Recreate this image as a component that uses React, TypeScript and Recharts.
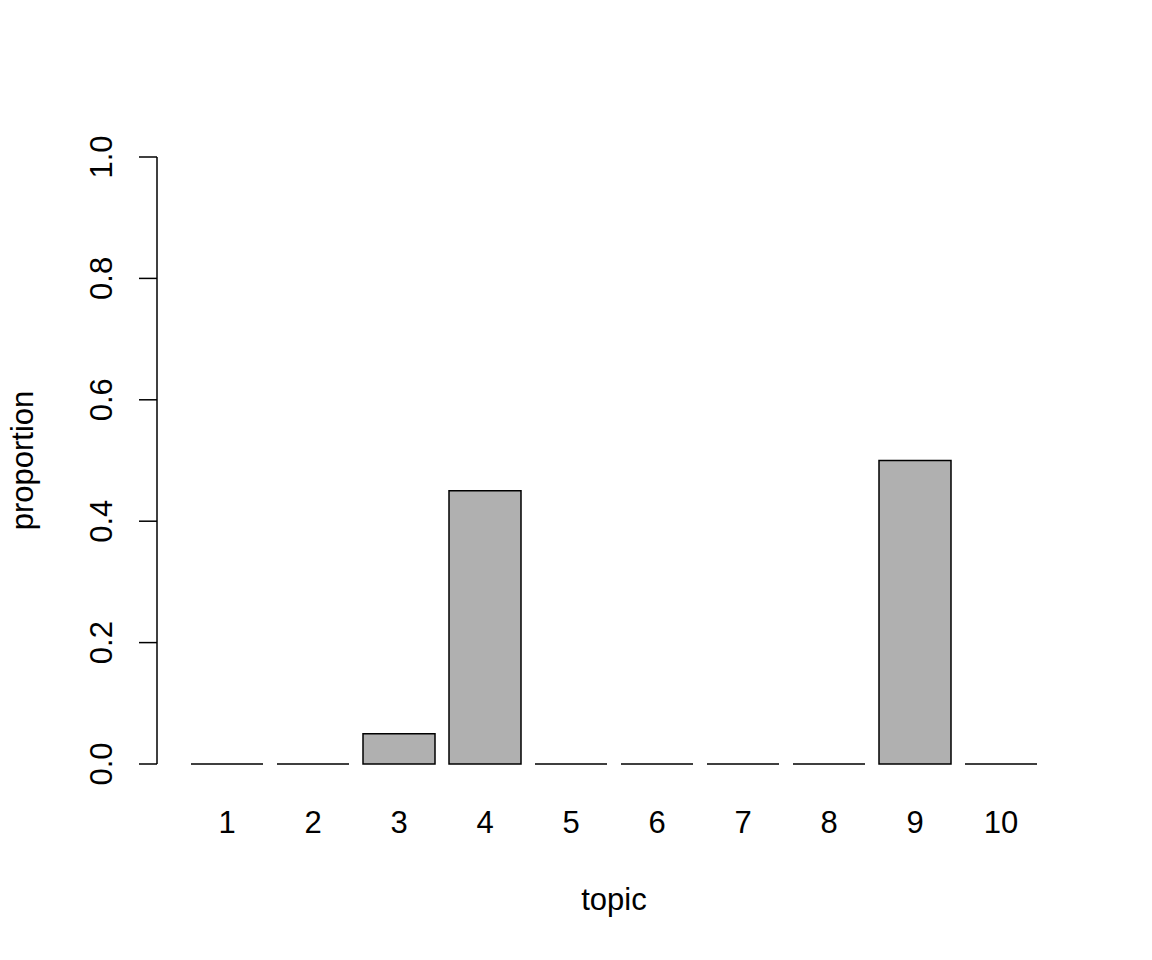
import { Bar, BarChart, XAxis, YAxis } from "recharts";

const TOPICS = ["1", "2", "3", "4", "5", "6", "7", "8", "9", "10"];
const PROPORTIONS = [0, 0, 0.05, 0.45, 0, 0, 0, 0, 0.5, 0];
const Y_TICKS = [0, 0.2, 0.4, 0.6, 0.8, 1];

const FONT = '"Liberation Sans", Arial, Helvetica, sans-serif';
const FONT_SIZE = 31;
const LINE = 1.5;

const data = TOPICS.map((topic, i) => ({ topic, proportion: PROPORTIONS[i] }));

// R draws zero-height bars as a flat outline, so use a path rather than a rect
function OutlinedBar(props: any) {
  const { x, y, width, height, fill } = props;
  const d = `M${x},${y + height} L${x},${y} L${x + width},${y} L${x + width},${y + height} Z`;
  return <path d={d} fill={fill} stroke="#000" strokeWidth={LINE} />;
}

function YTick(props: any) {
  const { x, y, payload } = props;
  const bx = x - 27;
  return (
    <text
      x={bx}
      y={y}
      transform={`rotate(-90, ${bx}, ${y})`}
      textAnchor="middle"
      fontFamily={FONT}
      fontSize={FONT_SIZE}
      fill="#000"
    >
      {Number(payload.value).toFixed(1)}
    </text>
  );
}

function XTick(props: any) {
  const { x, y, payload } = props;
  return (
    <text
      x={x}
      y={y + 69}
      textAnchor="middle"
      fontFamily={FONT}
      fontSize={FONT_SIZE}
      fill="#000"
    >
      {payload.value}
    </text>
  );
}

export default function App() {
  return (
    <div style={{ width: 1152, height: 960, background: "#fff" }}>
      <style>{"body{margin:0}"}</style>
      <BarChart
        width={1152}
        height={960}
        data={data}
        margin={{ top: 157, right: 108, bottom: 0, left: 0 }}
      >
        <XAxis
          dataKey="topic"
          axisLine={false}
          tickLine={false}
          tickSize={0}
          tickMargin={0}
          height={196}
          padding={{ left: 27, right: 0 }}
          tick={<XTick />}
          interval={0}
          label={{
            value: "topic",
            content: (p: any) => {
              const vb = p.viewBox;
              return (
                <text
                  x={vb.x + 27 + (vb.width - 27) / 2}
                  y={vb.y + 146}
                  textAnchor="middle"
                  fontFamily={FONT}
                  fontSize={FONT_SIZE}
                  fill="#000"
                >
                  topic
                </text>
              );
            },
          }}
        />
        <YAxis
          width={157}
          domain={[0, 1]}
          ticks={Y_TICKS}
          interval={0}
          tickSize={18}
          tickMargin={0}
          axisLine={{ stroke: "#000", strokeWidth: LINE }}
          tickLine={{ stroke: "#000", strokeWidth: LINE }}
          tick={<YTick />}
          label={{
            value: "proportion",
            content: (p: any) => {
              const vb = p.viewBox;
              const cx = vb.x + 33;
              const cy = vb.y + vb.height / 2;
              return (
                <text
                  x={cx}
                  y={cy}
                  transform={`rotate(-90, ${cx}, ${cy})`}
                  textAnchor="middle"
                  fontFamily={FONT}
                  fontSize={FONT_SIZE}
                  fill="#000"
                >
                  proportion
                </text>
              );
            },
          }}
        />
        <Bar
          dataKey="proportion"
          fill="#B0B0B0"
          barSize={72}
          shape={<OutlinedBar />}
          isAnimationActive={false}
        />
      </BarChart>
    </div>
  );
}
